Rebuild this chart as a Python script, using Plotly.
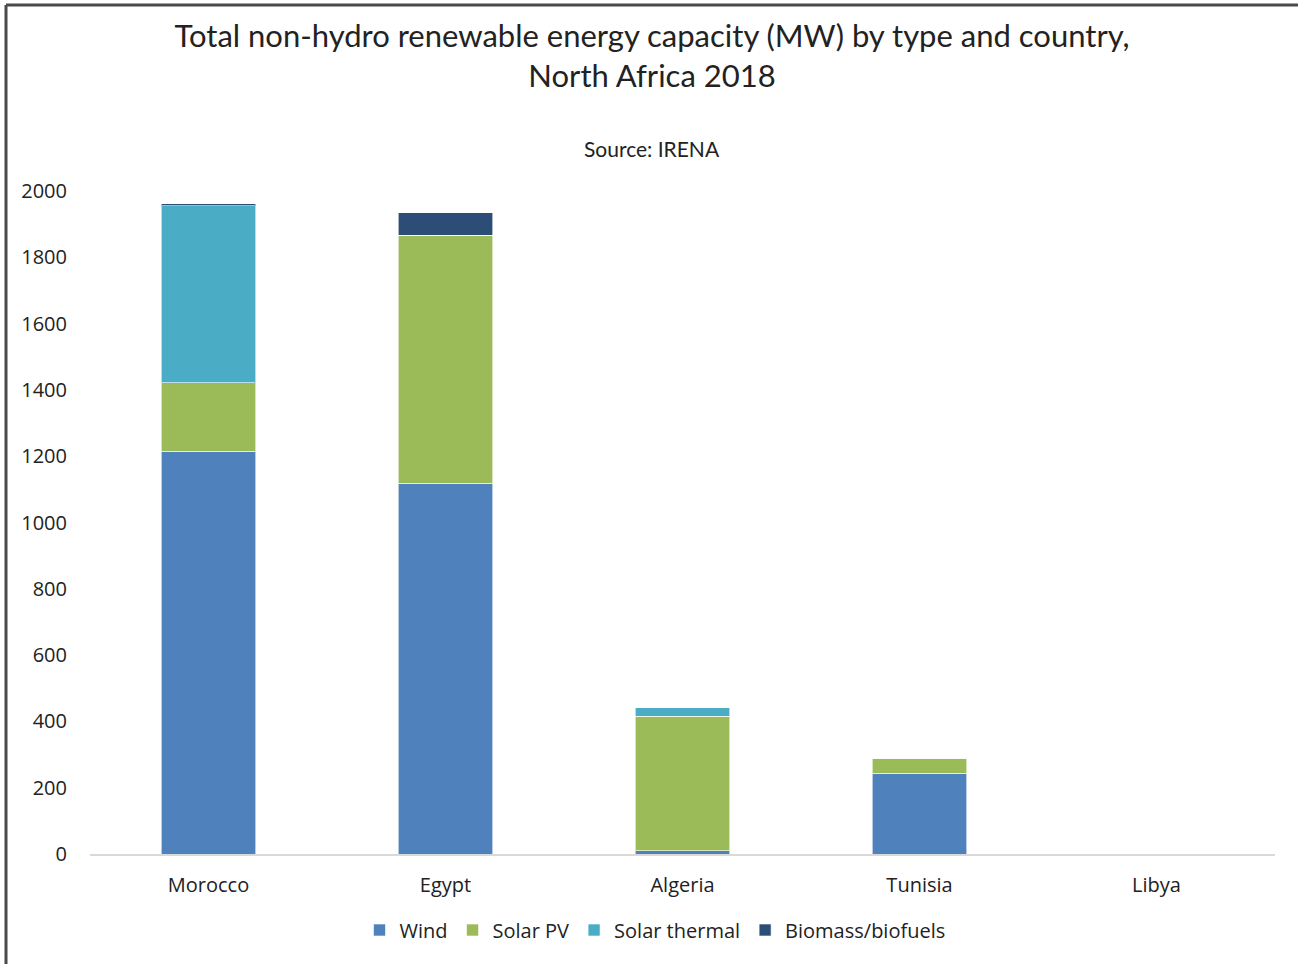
import plotly.graph_objects as go

# Installed non-hydro renewable capacity, MW (2018)
countries = ["Morocco", "Egypt", "Algeria", "Tunisia", "Libya"]
wind = [1215, 1118, 10, 243, 0]
solar_pv = [206, 749, 406, 46, 0]
solar_thermal = [534, 0, 25, 0, 0]
biomass = [6, 67, 0, 0, 0]

series = [
    ("Wind", wind, "#4F81BD"),
    ("Solar PV", solar_pv, "#9BBB59"),
    ("Solar thermal", solar_thermal, "#4BACC6"),
    ("Biomass/biofuels", biomass, "#2C4D75"),
]

W, H = 1298, 964
ML, MR, MT, MB = 90, 23, 191, 110
pw, ph = W - ML - MR, H - MT - MB

fig = go.Figure()
for name, vals, col in series:
    fig.add_trace(go.Bar(
        x=countries, y=vals, name=name,
        marker=dict(color=col, line=dict(color="rgba(255,255,255,0.6)", width=1)),
        width=0.4,
    ))

title_font = "Lato, 'Open Sans', sans-serif"
label_font = "'Open Sans', Lato, sans-serif"


def px_x(p):
    return (p - ML) / pw


def px_y(p):
    return (H - MB - p) / ph


# frame lines along the top and left edges of the page
frame = dict(color="#4a4a4a", width=3)
fig.add_shape(type="line", xref="paper", yref="paper",
              x0=px_x(6), x1=px_x(W + 5), y0=px_y(5), y1=px_y(5), line=frame)
fig.add_shape(type="line", xref="paper", yref="paper",
              x0=px_x(6), x1=px_x(6), y0=px_y(5), y1=px_y(H + 5), line=frame)

fig.update_layout(
    barmode="stack",
    width=W, height=H,
    margin=dict(l=ML, r=MR, t=MT, b=MB),
    paper_bgcolor="white", plot_bgcolor="white",
    font=dict(family=label_font, color="#222222"),
    title=dict(
        text="Total non-hydro renewable energy capacity (MW) by type and country,<br>North Africa 2018",
        x=652 / W, xanchor="center", xref="container",
        y=1 - 47 / H, yanchor="middle", yref="container",
        font=dict(size=31, color="#222222", family=title_font),
    ),
    annotations=[dict(
        text="Source: IRENA", xref="paper", yref="paper",
        x=px_x(652), y=px_y(148), xanchor="center", yanchor="middle",
        showarrow=False, font=dict(size=21, color="#222222", family=title_font),
    )],
    xaxis=dict(
        range=[-0.5, 4.5], showgrid=False, showline=True,
        linecolor="#d9d9d9", linewidth=2, ticks="",
        tickfont=dict(size=20, color="#222222"), ticklabelstandoff=12,
    ),
    yaxis=dict(
        range=[0, 2000], dtick=200, showgrid=False, zeroline=False,
        showline=False, ticks="", tickfont=dict(size=20, color="#222222"),
        ticklabelstandoff=22,
    ),
    legend=dict(
        orientation="h", x=px_x(655), xanchor="center",
        y=px_y(930), yanchor="middle",
        font=dict(size=20, color="#222222"), traceorder="normal",
        itemwidth=30,
    ),
    bargap=0.6,
)

fig.write_html("out.html")
